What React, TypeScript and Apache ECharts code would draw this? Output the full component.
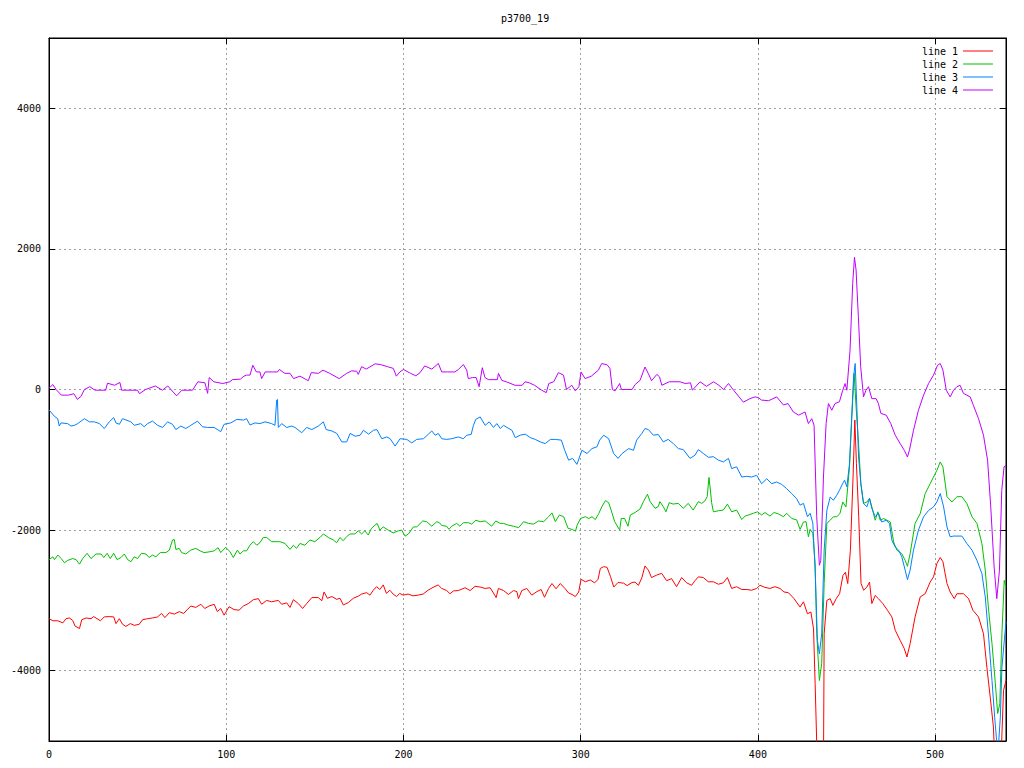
import React, { useEffect, useRef } from "react";
import * as echarts from "echarts";

const chartTitle = "p3700_19";
const seriesNames = ["line 1", "line 2", "line 3", "line 4"];
const seriesColors = ["#ff0000", "#00c000", "#0080ff", "#c000ff"];
const xTicks = [0, 100, 200, 300, 400, 500];
const yTicks = [-4000, -2000, 0, 2000, 4000];

const line1: [number, number][] = [
  [0, -3260], [2.2, -3290], [5, -3290], [7.8, -3320], [9.6, -3260], [11.5, -3250], [13.4, -3285], [14.7, -3365], [17.2, -3400], [18.5, -3275],
  [21, -3250], [23.7, -3260], [25.2, -3230], [27.1, -3260], [29, -3290], [31.2, -3235], [34, -3230], [36.5, -3235], [37.8, -3330], [39.7, -3260],
  [41.5, -3340], [43.4, -3370], [45.9, -3330], [48.1, -3355], [50.9, -3340], [52.8, -3275], [55.6, -3260], [58.4, -3250], [61.3, -3235], [63.5, -3185],
  [65.4, -3245], [67.9, -3175], [70.7, -3195], [73.5, -3160], [76, -3185], [77.9, -3135], [80, -3080], [82.8, -3100], [85.7, -3055], [87.9, -3115],
  [90.3, -3080], [93.2, -3055], [95, -3160], [96.9, -3115], [98.8, -3210], [101.6, -3090], [104.4, -3130], [107.2, -3140], [109.7, -3080], [112.5, -3045],
  [115.3, -2990], [118.1, -2975], [120, -3055], [122.8, -3000], [125.6, -3020], [129.4, -3000], [131.3, -3055], [134.1, -3035], [136, -3100], [137.9, -2990],
  [140.7, -3045], [143.1, -3115], [145.4, -3045], [148.3, -2960], [152, -2960], [153.9, -3005], [155.2, -2880], [157.1, -2970], [159.6, -2945], [162.4, -2985],
  [164.2, -2970], [166.1, -3065], [168.9, -3030], [171.7, -2970], [174.5, -2940], [176.4, -2910], [179.2, -2890], [181.1, -2925], [183, -2855], [184.8, -2805],
  [186.7, -2845], [188.6, -2780], [190.4, -2900], [192.3, -2855], [194.2, -2910], [196.1, -2945], [197.9, -2900], [199.8, -2925], [202.6, -2910], [205.4, -2935],
  [208.3, -2925], [211.1, -2910], [213.9, -2855], [216.7, -2815], [219.6, -2780], [221.6, -2830], [224.4, -2860], [226.3, -2905], [228.2, -2865], [231, -2860],
  [234.8, -2820], [237.6, -2860], [240.4, -2800], [243.3, -2810], [246.1, -2830], [248.9, -2820], [250.8, -2895], [252.3, -2960], [253.6, -2830], [256.5, -2860],
  [259.3, -2915], [262.1, -2860], [264, -2875], [264.9, -2975], [266.8, -2860], [269.6, -2830], [272.4, -2925], [275.3, -2875], [277.7, -2845], [279.6, -2955],
  [281.9, -2830], [283.8, -2760], [286.1, -2835], [288.5, -2760], [291.3, -2835], [293.2, -2895], [295.1, -2915], [297, -2945], [298.9, -2880], [300.2, -2700],
  [302.6, -2735], [305.4, -2710], [307.9, -2750], [309.8, -2700], [311.1, -2545], [313, -2520], [314.9, -2530], [316.8, -2660], [318.7, -2810], [321.1, -2745],
  [324.3, -2755], [326.2, -2790], [329, -2745], [330.7, -2740], [332.6, -2785], [334.5, -2680], [336.3, -2510], [338.2, -2570], [340, -2675], [342.9, -2640],
  [345.7, -2615], [348.5, -2720], [351.3, -2690], [354.1, -2805], [357, -2675], [359.8, -2750], [362.6, -2785], [364.5, -2720], [366.4, -2665], [369.2, -2675],
  [372, -2735], [374.9, -2735], [377.7, -2770], [380.5, -2750], [382.8, -2675], [385.2, -2830], [388, -2805], [390.9, -2845], [393.7, -2845], [396.5, -2855],
  [399.3, -2830], [401.2, -2785], [404, -2815], [406.8, -2830], [409.6, -2805], [412.5, -2830], [414.7, -2880], [417.2, -2890], [419.1, -2940], [420.4, -2975],
  [423.8, -3095], [425.7, -3020], [428, -3190], [429.9, -3165], [431.4, -3405], [432.3, -4185], [433.6, -5400], [437, -5400], [437.4, -3475], [438.9, -3000],
  [440.8, -2975], [442.3, -3070], [444.2, -2975], [446.1, -2905], [448, -2645], [449.4, -2600], [450.7, -2760], [452.2, -2285], [453.7, -1245], [454.7, -435],
  [455.6, -1055], [456.9, -1810], [458.2, -2760], [459.7, -2855], [461.5, -2810], [463, -2740], [464.3, -3045], [466.2, -2930], [468, -2975], [470.5, -3045],
  [473.1, -3140], [475.6, -3235], [477.5, -3425], [480.3, -3570], [482.6, -3685], [484.1, -3805], [485.9, -3615], [488.7, -3235], [491.6, -2950], [494.4, -2905],
  [497.2, -2740], [499.1, -2665], [501, -2475], [502.9, -2390], [504.4, -2450], [506.7, -2760], [508.5, -2880], [510.8, -2975], [512.3, -2905], [516, -2905],
  [518.9, -2975], [521.3, -3140], [524.5, -3235], [527.3, -3475], [529.2, -3950], [531.1, -4375], [532.9, -4800], [533.9, -5400], [537, -5400], [538.6, -4280],
  [540, -4140],
];

const line2: [number, number][] = [
  [0, -2420], [2.2, -2380], [3.1, -2420], [5, -2355], [6.9, -2405], [8.7, -2465], [10.6, -2430], [13.4, -2405], [15.3, -2420], [17.2, -2485],
  [19, -2405], [21.5, -2330], [23.7, -2405], [26.5, -2340], [29.4, -2340], [30.9, -2390], [32.8, -2330], [34.6, -2405], [36.5, -2330], [38.4, -2420],
  [40.6, -2390], [42.5, -2340], [44.4, -2420], [46.2, -2450], [48.1, -2380], [50, -2405], [52.2, -2330], [54.7, -2340], [56.5, -2390], [58.4, -2355],
  [60.3, -2380], [62.8, -2320], [66, -2320], [67.9, -2285], [69.7, -2140], [70.7, -2135], [71.6, -2275], [73.5, -2260], [74.8, -2320], [77.2, -2340],
  [80, -2285], [82.8, -2260], [85.3, -2295], [87.5, -2320], [90.3, -2310], [93.2, -2295], [95.4, -2250], [96.9, -2320], [99.7, -2245], [102.2, -2310],
  [104, -2390], [106.3, -2285], [107.8, -2340], [109.7, -2295], [111.5, -2295], [113.4, -2215], [115.3, -2165], [117.2, -2215], [119, -2180], [120.9, -2105],
  [122.8, -2105], [125.6, -2165], [128.5, -2165], [130.3, -2165], [133.2, -2190], [136, -2275], [137.9, -2215], [139.7, -2260], [141.6, -2190], [144.4, -2215],
  [147.2, -2140], [150, -2165], [152.9, -2105], [154.8, -2055], [157.6, -2105], [160.4, -2140], [162.3, -2180], [164.2, -2105], [166, -2150], [167.9, -2095],
  [169.8, -2055], [172.6, -2055], [174.5, -2010], [176.4, -2055], [178.2, -2010], [180.1, -2070], [182, -1975], [183.9, -1930], [185.2, -1905], [186.7, -2000],
  [188.6, -1955], [191.4, -2000], [194.2, -2040], [197.1, -2010], [199, -2000], [200.9, -2085], [202.8, -2055], [205.6, -1955], [207.5, -1955], [210.9, -1870],
  [213.1, -1880], [216, -1945], [218.8, -1880], [220.3, -1895], [221.6, -1935], [224.4, -1945], [225.7, -1990], [227.2, -1945], [230, -1905], [231.9, -1945],
  [233.8, -1895], [236.6, -1895], [238.5, -1915], [240.8, -1860], [243.3, -1880], [246.1, -1870], [249.8, -1945], [252.1, -1870], [254.6, -1905], [256.5, -1905],
  [259.3, -1930], [262.1, -1945], [265, -1965], [267.8, -1880], [270.6, -1905], [273.4, -1915], [276.2, -1870], [279.1, -1880], [281.9, -1810], [283.8, -1755],
  [285.7, -1880], [288, -1785], [290.4, -1810], [292.9, -1975], [295.2, -1990], [297.1, -2015], [298, -1930], [299.9, -1835], [302.7, -1810], [304.6, -1835],
  [306.4, -1810], [308.3, -1850], [310.2, -1765], [312.1, -1660], [314, -1580], [315.8, -1610], [317.3, -1725], [319.2, -1880], [321.4, -1975], [322, -2000],
  [322.9, -1835], [324.8, -1835], [326.7, -1945], [328, -1785], [330.7, -1750], [333.5, -1700], [335.4, -1595], [337.7, -1490], [339.2, -1595], [342, -1690],
  [343.8, -1665], [344.7, -1595], [346.6, -1665], [348.1, -1740], [350, -1610], [352.2, -1630], [355.1, -1620], [357.9, -1690], [360.7, -1620], [363.5, -1715],
  [366.4, -1595], [368.3, -1620], [370.1, -1585], [371.4, -1525], [372.4, -1250], [373, -1385], [373.9, -1610], [374.9, -1740], [377.7, -1725], [380.5, -1715],
  [382.8, -1630], [385.2, -1740], [388, -1715], [390.9, -1850], [392.8, -1800], [394.7, -1785], [397.5, -1760], [399.8, -1740], [402.1, -1785], [404, -1750],
  [406.8, -1800], [409.1, -1750], [411.5, -1770], [414.4, -1810], [416.2, -1760], [419.1, -1835], [421.9, -1855], [423.8, -1990], [425.7, -1885], [427.2, -1880],
  [428.5, -2095], [429.5, -1990], [431, -2045], [432.3, -2475], [433.2, -3470], [434.7, -4140], [436, -3900], [437.4, -2760], [438.9, -1905], [440.8, -1860],
  [442.6, -1810], [444.5, -1810], [446.3, -1765], [447.9, -1600], [449.7, -1670], [451.7, -1100], [453, -390], [454.3, 230], [455.4, -245], [456.8, -770],
  [458.1, -1340], [459.6, -1620], [461.5, -1600], [463, -1550], [464.3, -1670], [466.2, -1860], [467.7, -1740], [469, -1860], [470.9, -1835], [472.8, -1860],
  [474.7, -1885], [476.6, -2170], [478.4, -2285], [481.2, -2335], [483.1, -2430], [484.4, -2515], [485.9, -2335], [488.7, -1905], [491.6, -1765], [494.4, -1480],
  [497.2, -1340], [499.1, -1245], [501, -1150], [502.9, -1030], [504.4, -1100], [506.7, -1525], [509.5, -1600], [512.3, -1525], [515.1, -1525], [517.9, -1620],
  [520.8, -1810], [523.6, -1905], [526.4, -2190], [528.3, -2570], [530.2, -3140], [532.1, -3615], [534, -4185], [535.3, -4610], [536.5, -4470], [537.7, -3470],
  [539, -2715], [540, -2800],
];

const line3: [number, number][] = [
  [0, -290], [3, -380], [4.9, -415], [5.8, -520], [6.8, -475], [10.5, -485], [12.4, -520], [14.3, -510], [16.2, -485], [20, -415],
  [22.8, -460], [25.6, -460], [28.4, -485], [31.2, -555], [34, -460], [36.5, -400], [37.8, -475], [39.7, -495], [41.5, -415], [46.2, -460],
  [48.1, -510], [51.8, -485], [53.7, -530], [55.6, -485], [58.4, -450], [61.3, -510], [64.1, -540], [66.9, -460], [69.7, -495], [71.6, -570],
  [74.4, -520], [77.2, -555], [80, -510], [83.8, -450], [86.6, -530], [89.4, -540], [93.2, -540], [96.9, -600], [98.8, -495], [102.6, -475],
  [106, -425], [109.8, -435], [111.5, -415], [113.4, -505], [116.2, -475], [119, -485], [121.9, -460], [125.6, -485], [127.5, -510], [128.5, -150],
  [128.9, -140], [129.4, -540], [131.3, -485], [134.1, -540], [137, -520], [138.8, -540], [142.6, -615], [145.4, -540], [148.3, -570], [152, -520],
  [154.8, -460], [156.4, -570], [159.6, -590], [162.4, -625], [165.2, -745], [168, -745], [169.9, -625], [172.8, -665], [175.6, -650], [177.4, -580],
  [180.3, -635], [183.1, -580], [185, -570], [187.8, -700], [190.6, -675], [192.5, -700], [195.3, -805], [198.1, -700], [201.9, -710], [204.7, -760],
  [207.5, -710], [211.3, -700], [214.1, -635], [216, -590], [217.9, -650], [219.7, -625], [221.6, -700], [224.4, -710], [227.2, -700], [231, -675],
  [233.8, -700], [235.7, -650], [238.2, -640], [239.5, -510], [240.8, -425], [243.3, -390], [246.1, -510], [248.4, -460], [250.8, -540], [252.7, -485],
  [254.6, -555], [256.5, -510], [258.4, -540], [261.2, -580], [263.1, -685], [265.9, -650], [268.7, -635], [271.6, -685], [274.4, -710], [277.2, -745],
  [280, -770], [282.9, -710], [285.7, -710], [289.1, -720], [291, -865], [293.2, -1005], [295.5, -980], [297.9, -1065], [300.7, -865], [303.6, -910],
  [306.4, -840], [309.2, -815], [310.7, -720], [313, -650], [315.8, -700], [318.6, -910], [321.1, -980], [323.4, -910], [327.1, -840], [329.8, -865],
  [331.6, -720], [334.5, -625], [336.3, -555], [338.2, -570], [341, -650], [343.8, -640], [346.6, -745], [349.4, -710], [352.3, -770], [355.1, -840],
  [357.9, -855], [361.7, -980], [364.5, -935], [366.4, -855], [369.2, -910], [372.1, -965], [374.9, -955], [377.7, -1005], [380.5, -1030], [383.4, -980],
  [385.2, -1125], [388, -1100], [390.9, -1245], [393.7, -1235], [396.5, -1245], [399.3, -1220], [402.1, -1340], [405, -1270], [407.8, -1340], [410.6, -1315],
  [413.4, -1350], [416.2, -1410], [419.1, -1480], [421.9, -1555], [423.8, -1645], [425.7, -1620], [428, -1810], [429.5, -1760], [431, -1900], [432.3, -2570],
  [433.6, -3570], [434.7, -3760], [436, -3475], [437.4, -2285], [438.9, -1720], [440.8, -1530], [442.6, -1575], [444.5, -1505], [446, -1435], [447.4, -1360],
  [448.9, -1290], [450.2, -1385], [451.7, -1055], [452.5, -625], [454, 180], [454.9, 370], [455.9, -295], [456.8, -960], [458.1, -1340], [459.6, -1620],
  [461.5, -1670], [463, -1550], [464.3, -1690], [466.2, -1810], [468, -1760], [469.9, -1885], [472.4, -1860], [474.3, -1910], [475.6, -2145], [477.5, -2240],
  [479.4, -2285], [481.2, -2380], [483.1, -2570], [484.4, -2705], [485.9, -2570], [487.8, -2285], [490.6, -2000], [493.5, -1810], [496.3, -1720], [499.1, -1670],
  [501, -1600], [502.9, -1480], [504.8, -1670], [506.7, -1955], [508.5, -2095], [510.4, -2085], [512.3, -2085], [515.1, -2085], [517.9, -2190], [520.8, -2285],
  [523.6, -2430], [526.4, -2620], [528.3, -2950], [530.2, -3520], [532.1, -4140], [533.6, -4660], [534.9, -5050], [535.8, -5050], [536.8, -4660], [537.7, -3950],
  [540, -3300],
];

const line4: [number, number][] = [
  [0, 20], [2.2, 70], [4, 0], [7, -80], [11, -80], [14, -60], [16, -140], [18, -100], [20, 0], [23, 40],
  [26, -10], [32, -10], [33, 90], [37, 60], [40, 100], [41, -10], [43, -10], [50, -10], [51, -60], [54.5, 0],
  [60, 50], [64, -10], [67, 50], [72, -90], [75, -10], [81, -10], [84, 110], [88, 95], [89.5, -55], [90.4, 170],
  [93, 110], [98, 85], [102, 110], [103.5, 140], [108, 147], [110, 190], [111.5, 205], [113.4, 205], [115, 345], [117, 250],
  [119, 250], [120, 155], [122, 250], [126, 250], [129, 250], [130, 285], [133, 230], [136, 230], [138, 155], [141.6, 190],
  [146.3, 125], [148, 240], [152, 230], [154.6, 275], [158.4, 230], [163.7, 155], [168, 230], [170.7, 265], [173.6, 260], [174.5, 215],
  [176.4, 325], [179, 290], [184, 365], [187, 355], [191, 325], [194.3, 300], [196, 190], [198, 250], [200, 285], [204, 230],
  [207, 195], [209.4, 240], [212, 335], [216, 290], [219.7, 370], [221.6, 250], [225, 250], [229, 250], [231, 285], [233.8, 355],
  [235.7, 275], [236.6, 155], [239, 170], [241, 170], [242.7, 40], [244.5, 310], [246, 170], [248, 140], [253, 140], [253.6, 230],
  [255.5, 130], [258, 110], [263, 60], [267, 60], [268.6, 110], [271, 95], [274, 60], [278, -10], [280.6, -45], [282, 85],
  [284.8, 110], [287.4, 240], [290.3, 205], [292, 0], [295, 60], [297, -20], [299, 40], [300.2, 250], [302.5, 155], [306, 190],
  [310, 275], [311.9, 370], [315, 350], [316.5, 300], [317.9, 0], [319.4, -20], [322, 85], [323, 0], [326, 0], [329, 0],
  [330.7, 70], [333.5, 130], [336.3, 320], [338.2, 225], [340, 125], [343, 215], [344.5, 180], [345.8, 60], [350, 110], [356, 110],
  [359, 85], [362, 95], [363, -10], [367.4, 110], [371, 45], [375, 110], [378, 60], [380.6, 0], [383.4, 85], [386.3, -10],
  [391.8, -180], [395.5, -130], [398.4, -105], [400.3, -115], [402, -150], [406, -160], [410.6, -105], [414.4, -220], [417, -200], [420, -320],
  [423, -365], [426.6, -320], [428.5, -485], [430.4, -415], [431.7, -510], [433.2, -1810], [434.7, -2500], [435.5, -2430], [437, -1245], [438.5, -485],
  [439.8, -200], [441.7, -295], [443.5, -200], [446, -175], [447.9, -10], [449.2, 85], [450.2, -10], [452, 560], [453.5, 1510], [454.5, 1880],
  [455.4, 1700], [456.7, 1035], [458, 325], [459.6, -105], [461, -10], [462.4, 40], [464.3, -130], [466.7, -130], [468, -200], [469.4, -340],
  [472.4, -365], [475, -485], [477.5, -650], [480.3, -770], [482.6, -865], [484.4, -960], [485.5, -865], [487.8, -580], [490.6, -295], [493.5, -80],
  [496.3, 85], [499.1, 205], [501.4, 345], [502.9, 370], [504.4, 275], [506.3, -10], [508.5, -105], [510.4, -10], [512.3, 40], [514.1, 60],
  [516, -55], [519.8, -105], [521.6, -225], [524.5, -415], [527.3, -650], [529.6, -1005], [531.4, -1670], [533.3, -2525], [534.8, -2975], [536.3, -2570],
  [537.6, -1435], [538.9, -1100], [540, -1080],
];

const seriesData = [line1, line2, line3, line4];

const FONT = "DejaVu Sans Mono";

export default function App() {
  const ref = useRef<HTMLDivElement>(null);

  useEffect(() => {
    if (!ref.current) return;
    const chart = echarts.init(ref.current, undefined, { renderer: "svg" });
    const tickStyle = { color: "#000", width: 1 };
    chart.setOption({
      animation: false,
      backgroundColor: "#fff",
      title: {
        text: chartTitle,
        left: 501,
        top: 13,
        padding: 0,
        textStyle: { fontFamily: FONT, fontSize: 10, fontWeight: "normal", color: "#000" },
      },
      legend: {
        orient: "vertical",
        right: 31,
        top: 45,
        padding: 0,
        itemGap: 1,
        align: "right",
        icon: "rect",
        itemWidth: 30,
        itemHeight: 1,
        selectedMode: false,
        textStyle: { fontFamily: FONT, fontSize: 10, color: "#000", lineHeight: 12 },
        data: seriesNames.map((n, i) => ({ name: n, itemStyle: { color: seriesColors[i] } })),
      },
      grid: { left: 49, right: 18, top: 38, bottom: 27, show: true, borderColor: "#000", borderWidth: 1 },
      xAxis: [
        {
          type: "value",
          min: 0,
          max: 540,
          interval: 100,
          position: "bottom",
          axisLine: { show: true, onZero: false, lineStyle: tickStyle },
          axisTick: { show: true, inside: true, length: 6, customValues: xTicks, lineStyle: tickStyle },
          axisLabel: {
            color: "#000",
            fontFamily: FONT,
            fontSize: 10,
            margin: 8,
            customValues: xTicks,
            formatter: (v: number) => String(v),
          },
          splitLine: { show: true, lineStyle: { color: "#a0a0a0", type: [2, 3], width: 1 } },
        },
        {
          type: "value",
          min: 0,
          max: 540,
          interval: 100,
          position: "top",
          axisLine: { show: true, onZero: false, lineStyle: tickStyle },
          axisTick: { show: true, inside: true, length: 6, customValues: xTicks, lineStyle: tickStyle },
          axisLabel: { show: false },
          splitLine: { show: false },
        },
      ],
      yAxis: [
        {
          type: "value",
          min: -5000,
          max: 5000,
          position: "left",
          axisLine: { show: true, onZero: false, lineStyle: tickStyle },
          axisTick: { show: true, inside: true, length: 6, customValues: yTicks, lineStyle: tickStyle },
          axisLabel: {
            color: "#000",
            fontFamily: FONT,
            fontSize: 10,
            margin: 8,
            customValues: yTicks,
            formatter: (v: number) => String(v),
          },
          splitLine: { show: true, lineStyle: { color: "#a0a0a0", type: [2, 3], width: 1 } },
        },
        {
          type: "value",
          min: -5000,
          max: 5000,
          position: "right",
          axisLine: { show: true, onZero: false, lineStyle: tickStyle },
          axisTick: { show: true, inside: true, length: 6, customValues: yTicks, lineStyle: tickStyle },
          axisLabel: { show: false },
          splitLine: { show: false },
        },
      ],
      series: seriesData.map((d, i) => ({
        name: seriesNames[i],
        type: "line",
        data: d,
        xAxisIndex: 0,
        yAxisIndex: 0,
        showSymbol: false,
        symbol: "none",
        clip: true,
        itemStyle: { color: seriesColors[i] },
        lineStyle: { width: 1, color: seriesColors[i] },
        emphasis: { disabled: true },
      })),
    });
    return () => chart.dispose();
  }, []);

  return <div ref={ref} style={{ position: "absolute", left: 0, top: 0, width: 1024, height: 768 }} />;
}
